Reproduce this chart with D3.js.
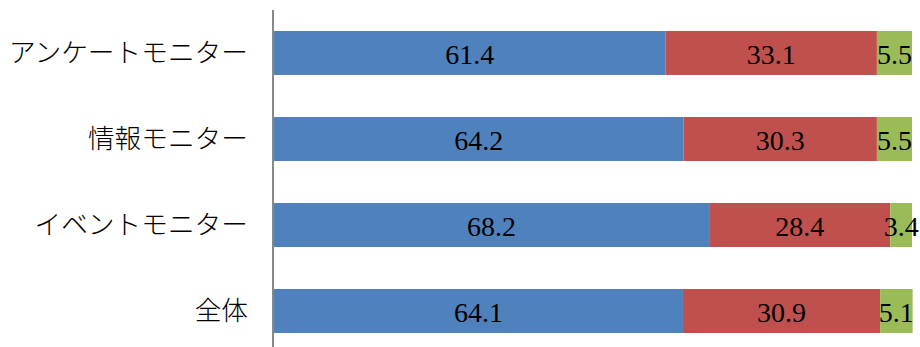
<!DOCTYPE html>
<html>
<head>
<meta charset="utf-8">
<script src="https://cdn.jsdelivr.net/npm/d3@7"></script>
<style>
  html, body { margin: 0; padding: 0; background: #fff; }
  svg { display: block; }
</style>
</head>
<body>
<svg id="chart" width="920" height="347"></svg>
<script>
// Categories (top to bottom) and share of each answer, in percent
const categories = ["アンケートモニター", "情報モニター", "イベントモニター", "全体"];
const seriesA = [61.4, 64.2, 68.2, 64.1];
const seriesB = [33.1, 30.3, 28.4, 30.9];
const seriesC = [5.5, 5.5, 3.4, 5.1];
const seriesKeys = ["a", "b", "c"];
const colors = ["#4F81BD", "#C0504D", "#9BBB59"];

const rows = categories.map((c, i) => ({ cat: c, a: seriesA[i], b: seriesB[i], c: seriesC[i] }));

const svg = d3.select("#chart");
const axisX = 273;

const x = d3.scaleLinear().domain([0, 100]).range([axisX + 1, 912]);
const y = d3.scaleBand().domain(categories).range([10, 354])
  .paddingInner(0.4884).paddingOuter(0.2442);

const stack = d3.stack().keys(seriesKeys);
const layers = stack(rows);

const g = svg.append("g");
layers.forEach((layer, li) => {
  g.selectAll(null).data(layer).join("rect")
    .attr("x", d => x(d[0]))
    .attr("y", d => y(d.data.cat))
    .attr("width", d => x(d[1]) - x(d[0]))
    .attr("height", y.bandwidth())
    .attr("fill", colors[li]);
});

// value labels centred in each segment
layers.forEach((layer, li) => {
  g.selectAll(null).data(layer).join("text")
    .attr("x", d => (x(d[0]) + x(d[1])) / 2)
    .attr("y", d => y(d.data.cat) + y.bandwidth() / 2)
    .attr("dy", "0.38em")
    .attr("text-anchor", "middle")
    .attr("font-family", "'Liberation Serif', 'Times New Roman', serif")
    .attr("font-size", 28)
    .attr("fill", "#000")
    .text(d => d3.format(".1f")(d[1] - d[0]));
});

// category axis
const axis = d3.axisLeft(y).tickSize(0).tickPadding(25);
const ag = svg.append("g").attr("transform", `translate(${axisX},0)`).call(axis);
ag.select(".domain").attr("stroke", "#888").attr("stroke-width", 2).attr("d", "M0,10V354");
ag.selectAll("text")
  .attr("font-family", "'Noto Sans CJK JP', sans-serif")
  .attr("font-weight", 300)
  .attr("font-size", 26.7)
  .attr("fill", "#000");
</script>
</body>
</html>
